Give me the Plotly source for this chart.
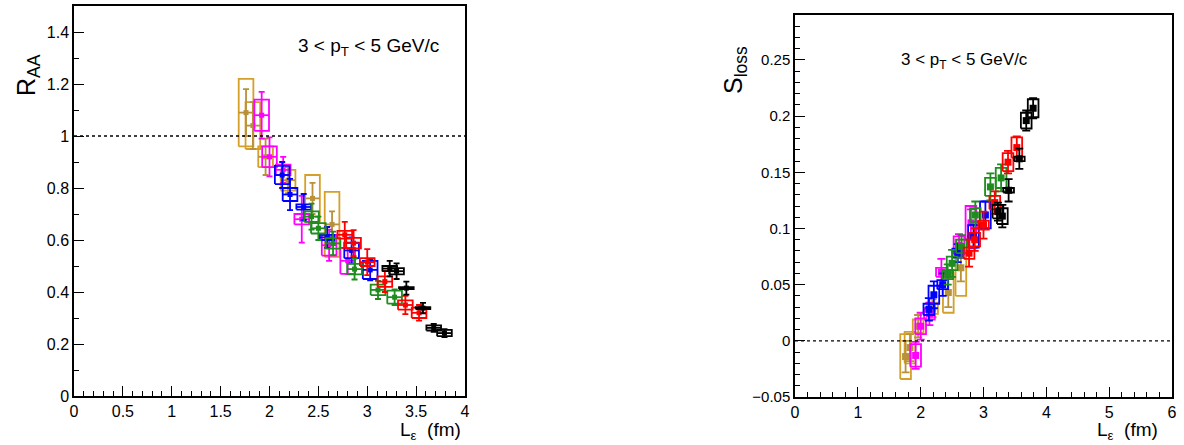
import plotly.graph_objects as go

# ---------------- data ----------------
SERIES = ["gold", "magenta", "blue", "green", "red", "black"]

L_gold = [1.76, 1.83, 1.96, 2.19, 2.44, 2.64]
RAA_gold = [1.09, 1.04, 0.92, 0.83, 0.76, 0.66]
RAA_stat_gold = [0.09, 0.09, 0.07, 0.05, 0.06, 0.05]
RAA_sys_gold = [0.13, 0.09, 0.04, 0.04, 0.09, 0.125]
S_gold = [-0.014, -0.006, 0.013, 0.029, 0.043, 0.065]
S_stat_gold = [0.014, 0.012, 0.010, 0.008, 0.013, 0.012]
S_sys_gold = [0.020, 0.014, 0.006, 0.005, 0.018, 0.025]

L_magenta = [1.92, 2.00, 2.14, 2.33, 2.61, 2.80]
RAA_magenta = [1.08, 0.92, 0.87, 0.68, 0.58, 0.52]
RAA_stat_magenta = [0.09, 0.075, 0.05, 0.09, 0.06, 0.05]
RAA_sys_magenta = [0.06, 0.04, 0.02, 0.02, 0.04, 0.05]
S_magenta = [-0.013, 0.013, 0.024, 0.061, 0.085, 0.105]
S_stat_magenta = [0.012, 0.012, 0.010, 0.012, 0.010, 0.012]
S_sys_magenta = [0.010, 0.007, 0.005, 0.004, 0.008, 0.015]

L_blue = [2.13, 2.21, 2.35, 2.59, 2.84, 3.03]
RAA_blue = [0.85, 0.775, 0.727, 0.61, 0.56, 0.485]
RAA_stat_blue = [0.05, 0.06, 0.05, 0.04, 0.05, 0.04]
RAA_sys_blue = [0.035, 0.025, 0.01, 0.01, 0.03, 0.035]
S_blue = [0.028, 0.041, 0.050, 0.078, 0.093, 0.112]
S_stat_blue = [0.010, 0.012, 0.010, 0.008, 0.010, 0.012]
S_sys_blue = [0.005, 0.008, 0.004, 0.004, 0.010, 0.012]

L_green = [2.43, 2.50, 2.65, 2.87, 3.11, 3.28]
RAA_green = [0.69, 0.645, 0.587, 0.488, 0.408, 0.38]
RAA_stat_green = [0.05, 0.045, 0.045, 0.04, 0.035, 0.03]
RAA_sys_green = [0.02, 0.02, 0.02, 0.02, 0.02, 0.025]
S_green = [0.059, 0.069, 0.084, 0.112, 0.137, 0.145]
S_stat_green = [0.009, 0.012, 0.010, 0.012, 0.012, 0.012]
S_sys_green = [0.004, 0.006, 0.006, 0.006, 0.008, 0.009]

L_red = [2.77, 2.86, 3.00, 3.18, 3.39, 3.53]
RAA_red = [0.62, 0.588, 0.515, 0.44, 0.35, 0.32]
RAA_stat_red = [0.05, 0.05, 0.05, 0.04, 0.035, 0.03]
RAA_sys_red = [0.015, 0.02, 0.015, 0.02, 0.018, 0.02]
S_red = [0.078, 0.090, 0.103, 0.123, 0.159, 0.172]
S_stat_red = [0.012, 0.010, 0.012, 0.010, 0.010, 0.010]
S_sys_red = [0.005, 0.006, 0.004, 0.006, 0.008, 0.009]

L_black = [3.23, 3.30, 3.40, 3.57, 3.68, 3.79]
RAA_black = [0.49, 0.48, 0.415, 0.338, 0.262, 0.242]
RAA_stat_black = [0.03, 0.03, 0.025, 0.02, 0.015, 0.015]
RAA_sys_black = [0.01, 0.012, 0.004, 0.004, 0.01, 0.012]
S_black = [0.115, 0.111, 0.134, 0.162, 0.196, 0.207]
S_stat_black = [0.008, 0.010, 0.010, 0.009, 0.009, 0.009]
S_sys_black = [0.006, 0.007, 0.002, 0.002, 0.007, 0.008]

RAA_REF = 1.0
S_REF = 0.0

# ---------------- style ----------------
MARK_COL = {"gold": "#B8913A", "magenta": "#FF00FF", "blue": "#0000FF",
            "green": "#1E8C1E", "red": "#FF0000", "black": "#000000"}
BOX_COL = {"gold": "#D4A02A", "magenta": "#FF00FF", "blue": "#0000FF",
           "green": "#1E8C1E", "red": "#FF0000", "black": "#000000"}
G = globals()
FONT = "Liberation Sans, Arial, sans-serif"

fig = go.Figure()


def boxes(xs, ys, sys, hw):
    bx, by = [], []
    for x, y, s in zip(xs, ys, sys):
        bx += [x - hw, x + hw, x + hw, x - hw, x - hw, None]
        by += [y - s, y - s, y + s, y + s, y - s, None]
    return bx, by


for name in SERIES:
    L = G["L_" + name]
    # left panel
    bx, by = boxes(L, G["RAA_" + name], G["RAA_sys_" + name], 0.075)
    fig.add_trace(go.Scatter(x=bx, y=by, mode="lines", xaxis="x", yaxis="y",
                             line=dict(color=BOX_COL[name], width=1.8),
                             showlegend=False, hoverinfo="skip"))
    fig.add_trace(go.Scatter(
        x=L, y=G["RAA_" + name], mode="markers", xaxis="x", yaxis="y",
        marker=dict(symbol="square", size=5, color=MARK_COL[name]),
        error_y=dict(type="data", array=G["RAA_stat_" + name],
                     color=MARK_COL[name], thickness=1.8, width=3),
        error_x=dict(type="data", array=[0.075] * len(L),
                     color=MARK_COL[name], thickness=1.8, width=0),
        showlegend=False))
    # right panel
    bx, by = boxes(L, G["S_" + name], G["S_sys_" + name], 0.085)
    fig.add_trace(go.Scatter(x=bx, y=by, mode="lines", xaxis="x2", yaxis="y2",
                             line=dict(color=BOX_COL[name], width=1.8),
                             showlegend=False, hoverinfo="skip"))
    fig.add_trace(go.Scatter(
        x=L, y=G["S_" + name], mode="markers", xaxis="x2", yaxis="y2",
        marker=dict(symbol="square", size=7, color=MARK_COL[name]),
        error_y=dict(type="data", array=G["S_stat_" + name],
                     color=MARK_COL[name], thickness=1.8, width=4),
        showlegend=False))


def axis(size, **kw):
    d = dict(showline=True, linecolor="black", linewidth=1.5, mirror=True,
             ticks="inside", tickcolor="black", tickwidth=1.2, ticklen=10,
             showgrid=False, zeroline=False, automargin=False,
             tickfont=dict(family=FONT, size=size, color="black"))
    d.update(kw)
    return d


fig.update_layout(
    width=1184, height=445, margin=dict(l=0, r=0, t=0, b=0, autoexpand=False),
    plot_bgcolor="white", paper_bgcolor="white",
    xaxis=axis(16, domain=[74 / 1184, 465 / 1184], range=[0, 4], dtick=0.5,
               minor=dict(ticks="inside", dtick=0.1, ticklen=5, tickcolor="black"),
               anchor="y"),
    yaxis=axis(16, domain=[49 / 445, 439 / 445], range=[0, 1.5], dtick=0.2,
               minor=dict(ticks="inside", dtick=0.1, ticklen=5, tickcolor="black"),
               anchor="x"),
    xaxis2=axis(16, domain=[795 / 1184, 1172 / 1184], range=[0, 6], dtick=1,
                minor=dict(ticks="inside", dtick=0.2, ticklen=5, tickcolor="black"),
                anchor="y2"),
    yaxis2=axis(15, domain=[48 / 445, 430 / 445], range=[-0.05, 0.29], dtick=0.05,
                minor=dict(ticks="inside", dtick=0.01, ticklen=5, tickcolor="black"),
                anchor="x2"),
)

fig.add_shape(type="line", xref="x domain", yref="y", x0=0, x1=1, y0=RAA_REF, y1=RAA_REF,
              line=dict(color="black", width=1.3, dash="dot"))
fig.add_shape(type="line", xref="x2 domain", yref="y2", x0=0, x1=1, y0=S_REF, y1=S_REF,
              line=dict(color="black", width=1.3, dash="dot"))


def label(text, px, py, size, angle=0):
    fig.add_annotation(text=text, x=px / 1184, y=1 - py / 445, textangle=angle,
                       xref="paper", yref="paper", xanchor="center", yanchor="middle",
                       showarrow=False, font=dict(family=FONT, color="black", size=size))


label("3 &lt; p<sub>T</sub> &lt; 5 GeV/c", 368, 47, 19)
label("3 &lt; p<sub>T</sub> &lt; 5 GeV/c", 964, 61, 17)
label("R<sub>AA</sub>", 28, 75, 25, -90)
label("S<sub>loss</sub>", 735, 70, 25, -90)
label("L<sub>ε</sub>  (fm)", 430, 431, 19)
label("L<sub>ε</sub>  (fm)", 1127, 431, 19)

fig.write_html("out.html", config={"displayModeBar": False},
               post_script="document.body.style.margin='0';document.body.style.overflow='hidden';")
